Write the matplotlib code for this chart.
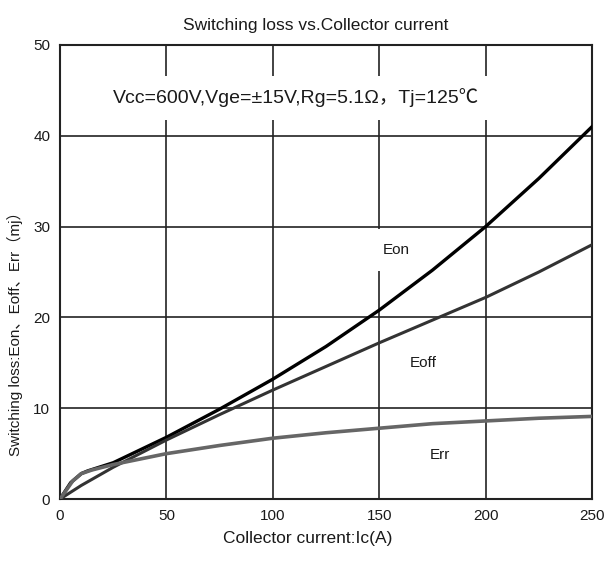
import numpy as np
import matplotlib.pyplot as plt

plt.rcParams['font.family'] = ['Liberation Sans', 'Noto Sans CJK SC', 'DejaVu Sans']

# valores
ic_on = [0, 5, 10, 13, 25, 50, 75, 100, 125, 150, 175, 200, 225, 250]
eon = [0, 1.8, 2.8, 3.1, 4.0, 6.8, 9.9, 13.2, 16.8, 20.8, 25.2, 30.0, 35.3, 41.0]

ic_off = [0, 10, 25, 50, 75, 100, 125, 150, 175, 200, 225, 250]
eoff = [0, 1.5, 3.5, 6.5, 9.3, 12.0, 14.6, 17.2, 19.7, 22.2, 25.0, 28.0]

ic_rr = [0, 3, 6, 10, 15, 25, 50, 75, 100, 125, 150, 175, 200, 225, 250]
err = [0, 1.0, 2.0, 2.8, 3.2, 3.8, 5.0, 5.9, 6.7, 7.3, 7.8, 8.3, 8.6, 8.9, 9.1]

xticks = [0, 50, 100, 150, 200, 250]
yticks = [0, 10, 20, 30, 40, 50]

fig = plt.figure(figsize=(6.08, 5.62), dpi=100)
ax = fig.add_axes([0.0987, 0.112, 0.875, 0.808])

ax.plot(ic_on, eon, color='black', lw=2.4, zorder=4)
ax.plot(ic_off, eoff, color='#333333', lw=2.2, zorder=4)
ax.plot(ic_rr, err, color='#666666', lw=2.6, zorder=4)

ax.set_xlim(0, 250)
ax.set_ylim(0, 50)
ax.set_xticks(xticks)
ax.set_yticks(yticks)
ax.tick_params(length=0, labelsize=11, pad=7, colors='#1a1a1a')
ax.grid(True, color='#222222', lw=1.2)
ax.set_axisbelow(True)
for s in ax.spines.values():
    s.set_linewidth(1.5)
    s.set_color('#222222')

ax.text(111, 44.2, 'Vcc=600V,Vge=±15V,Rg=5.1Ω，Tj=125℃', fontsize=14,
        ha='center', va='center', color='#1a1a1a',
        bbox=dict(facecolor='white', edgecolor='none', pad=9), zorder=3)
ax.text(158, 27.4, 'Eon', fontsize=11, ha='center', va='center', color='#1a1a1a',
        bbox=dict(facecolor='white', edgecolor='none', pad=10), zorder=3)
ax.text(170.6, 15.0, 'Eoff', fontsize=11, ha='center', va='center', color='#1a1a1a', zorder=3)
ax.text(178.6, 4.85, 'Err', fontsize=11, ha='center', va='center', color='#1a1a1a', zorder=3)

ax.set_title('Switching loss vs.Collector current', fontsize=12.5, x=0.481, pad=11, color='#1a1a1a')
ax.set_xlabel('Collector current:Ic(A)', fontsize=12.5, x=0.466, labelpad=6, color='#1a1a1a')
ax.set_ylabel('Switching loss:Eon、Eoff、Err（mj）', fontsize=11, color='#1a1a1a')
ax.yaxis.set_label_coords(-0.07, 0.372)

fig.savefig('out.png', dpi=100)
